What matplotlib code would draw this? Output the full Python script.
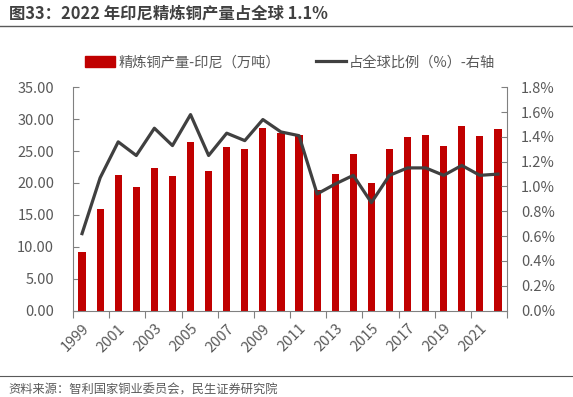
import matplotlib
matplotlib.use("Agg")
import matplotlib.pyplot as plt
from matplotlib.lines import Line2D
from matplotlib.ticker import FuncFormatter
import numpy as np

plt.rcParams['font.family'] = ['Noto Sans CJK SC', 'DejaVu Sans']

# ---------- data ----------
years = list(range(1999, 2023))
output = [9.1, 15.9, 21.3, 19.3, 22.3, 21.1, 26.4, 21.8, 25.7, 25.4, 28.6, 27.8,
          27.5, 18.9, 21.4, 24.5, 20.0, 25.4, 27.2, 27.5, 25.8, 28.9, 27.4, 28.5]
share = [0.62, 1.07, 1.36, 1.25, 1.47, 1.33, 1.58, 1.25, 1.43, 1.37, 1.54, 1.44,
         1.41, 0.94, 1.02, 1.09, 0.87, 1.09, 1.15, 1.15, 1.09, 1.17, 1.09, 1.10]
left_ticks = [0, 5, 10, 15, 20, 25, 30, 35]
right_ticks = [0.0, 0.2, 0.4, 0.6, 0.8, 1.0, 1.2, 1.4, 1.6, 1.8]

title = "图33：2022 年印尼精炼铜产量占全球 1.1%"
source = "资料来源：智利国家铜业委员会，民生证券研究院"
bar_label = "精炼铜产量-印尼（万吨）"
line_label = "占全球比例（%）-右轴"

RED = '#C00000'
DARK = '#404040'
GREY = '#595959'
SPINE = '#808080'

fig = plt.figure(figsize=(5.73, 3.97), dpi=100)
ax = fig.add_axes([73 / 573, 1 - 310.5 / 397, (507 - 73) / 573, (310.5 - 87.3) / 397])
ax2 = ax.twinx()

x = np.arange(len(years))
ax.bar(x, output, width=0.4, color=RED, zorder=2)
ax2.plot(x, share, color=DARK, lw=2.3, zorder=3)

ax.set_xlim(-0.5, len(years) - 0.5)
ax.set_ylim(0, 35)
ax2.set_ylim(0, 1.8)
ax.set_yticks(left_ticks)
ax.yaxis.set_major_formatter(FuncFormatter(lambda v, p: f"{v:.2f}"))
ax2.set_yticks(right_ticks)
ax2.yaxis.set_major_formatter(FuncFormatter(lambda v, p: f"{v:.1f}%"))

# x ticks at every second category boundary, labels on odd years
ax.set_xticks(np.arange(-0.5, len(years), 2))
ax.set_xticklabels([])
ax.set_xticks(x[::2], minor=True)
ax.set_xticklabels([str(y) for y in years[::2]], minor=True, rotation=45,
                   ha='right', va='top', rotation_mode='anchor')
ax.tick_params(axis='x', which='major', direction='out', length=5, color=SPINE)
ax.tick_params(axis='x', which='minor', length=0, pad=8, labelsize=10.5, labelcolor=GREY)

ax.tick_params(axis='y', direction='in', length=4, color=SPINE, pad=13.5,
               labelsize=10.5, labelcolor=GREY)
ax2.tick_params(axis='y', direction='in', length=4, color=SPINE, pad=10,
                labelsize=10.5, labelcolor=GREY)

for a in (ax, ax2):
    a.spines['top'].set_visible(False)
    for s in ('left', 'right', 'bottom'):
        a.spines[s].set_color(SPINE)
ax.spines['right'].set_visible(False)
ax2.spines['left'].set_visible(False)
ax2.spines['bottom'].set_visible(False)

# legend
handles = [plt.Rectangle((0, 0), 1, 1, color=RED), Line2D([0], [0], color=DARK, lw=2.3)]
fig.legend(handles, [bar_label, line_label], loc='center', ncol=2,
           bbox_to_anchor=(0.506, 1 - 62.5 / 397), frameon=False, fontsize=10.3,
           handlelength=2.1, handleheight=0.75, handletextpad=0.2, columnspacing=2.5,
           labelcolor=GREY)

# title and footer
fig.text(0.016, 1 - 14 / 397, title, fontsize=11.8, fontweight='bold', color=DARK, va='center')
fig.add_artist(Line2D([0, 1], [1 - 25.5 / 397] * 2, color=GREY, lw=1))
fig.add_artist(Line2D([0, 1], [1 - 376 / 397] * 2, color=GREY, lw=0.8))
fig.text(0.014, 1 - 390 / 397, source, fontsize=8.8, color=GREY, va='center')

fig.savefig("out.png", dpi=100)
